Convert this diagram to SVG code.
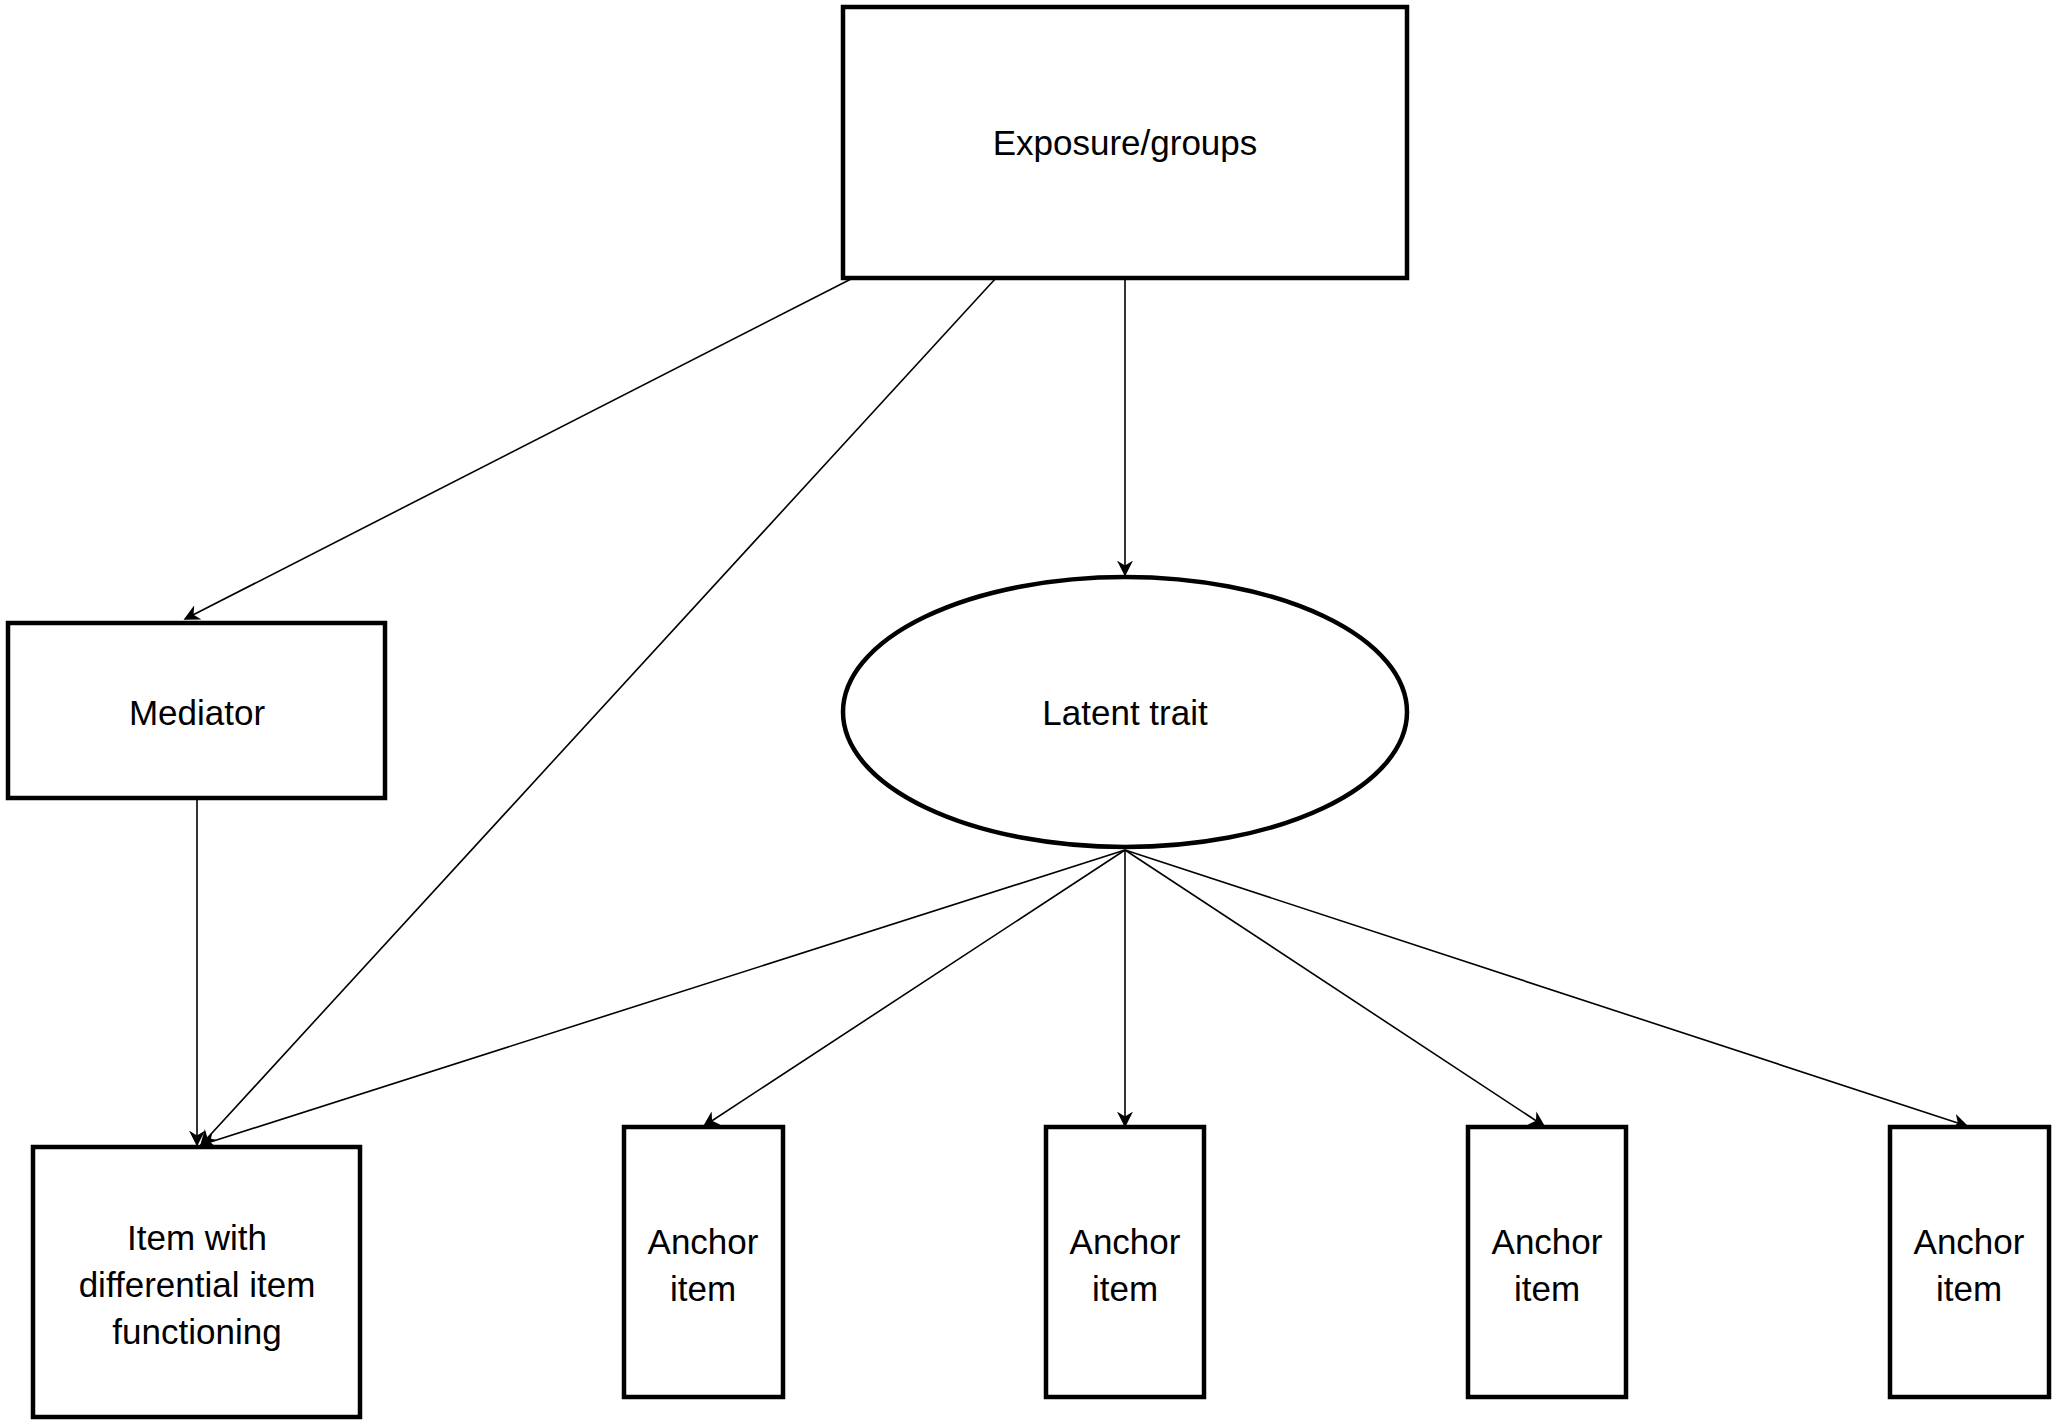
<svg xmlns="http://www.w3.org/2000/svg" width="2056" height="1425" viewBox="0 0 2056 1425">
<style>
.n{fill:#fff;stroke:#000;stroke-width:4.5}
.t{font-family:"Liberation Sans",Arial,sans-serif;font-size:35px;text-anchor:middle;fill:#000}
.c{stroke:#000;stroke-width:1.6;fill:none;marker-end:url(#a)}
</style>
<defs><marker id="a" viewBox="0 0 10 10" refX="9" refY="5" markerWidth="16" markerHeight="16" markerUnits="userSpaceOnUse" orient="auto"><path d="M0,0 L10,5 L0,10 L3,5 z" fill="#000"/></marker></defs>
<rect width="2056" height="1425" fill="#fff"/>
<g id="connectors">
<line class="c" x1="853" y1="278" x2="185" y2="619"/>
<line class="c" x1="996" y1="278" x2="201" y2="1145"/>
<line class="c" x1="1125" y1="278" x2="1125" y2="575"/>
<line class="c" x1="197" y1="800" x2="197" y2="1145"/>
<line class="c" x1="1125" y1="850" x2="201" y2="1145"/>
<line class="c" x1="1125" y1="850" x2="704" y2="1126"/>
<line class="c" x1="1125" y1="850" x2="1125" y2="1126"/>
<line class="c" x1="1125" y1="850" x2="1544" y2="1126"/>
<line class="c" x1="1125" y1="850" x2="1967" y2="1126"/>
</g>
<g id="exposure"><rect class="n" x="843" y="7" width="564" height="271"/><text class="t" x="1125" y="155">Exposure/groups</text></g>
<g id="mediator"><rect class="n" x="8" y="623" width="377" height="175"/><text class="t" x="197" y="725">Mediator</text></g>
<g id="latent"><ellipse class="n" cx="1125" cy="712" rx="282" ry="135"/><text class="t" x="1125" y="725">Latent trait</text></g>
<g id="dif"><rect class="n" x="33" y="1147" width="327" height="270"/><text class="t" x="197" y="1250">Item with</text><text class="t" x="197" y="1297">differential item</text><text class="t" x="197" y="1344">functioning</text></g>
<g id="a1"><rect class="n" x="624" y="1127" width="159" height="270"/><text class="t" x="703" y="1254">Anchor</text><text class="t" x="703" y="1301">item</text></g>
<g id="a2"><rect class="n" x="1046" y="1127" width="158" height="270"/><text class="t" x="1125" y="1254">Anchor</text><text class="t" x="1125" y="1301">item</text></g>
<g id="a3"><rect class="n" x="1468" y="1127" width="158" height="270"/><text class="t" x="1547" y="1254">Anchor</text><text class="t" x="1547" y="1301">item</text></g>
<g id="a4"><rect class="n" x="1890" y="1127" width="159" height="270"/><text class="t" x="1969" y="1254">Anchor</text><text class="t" x="1969" y="1301">item</text></g>
</svg>
